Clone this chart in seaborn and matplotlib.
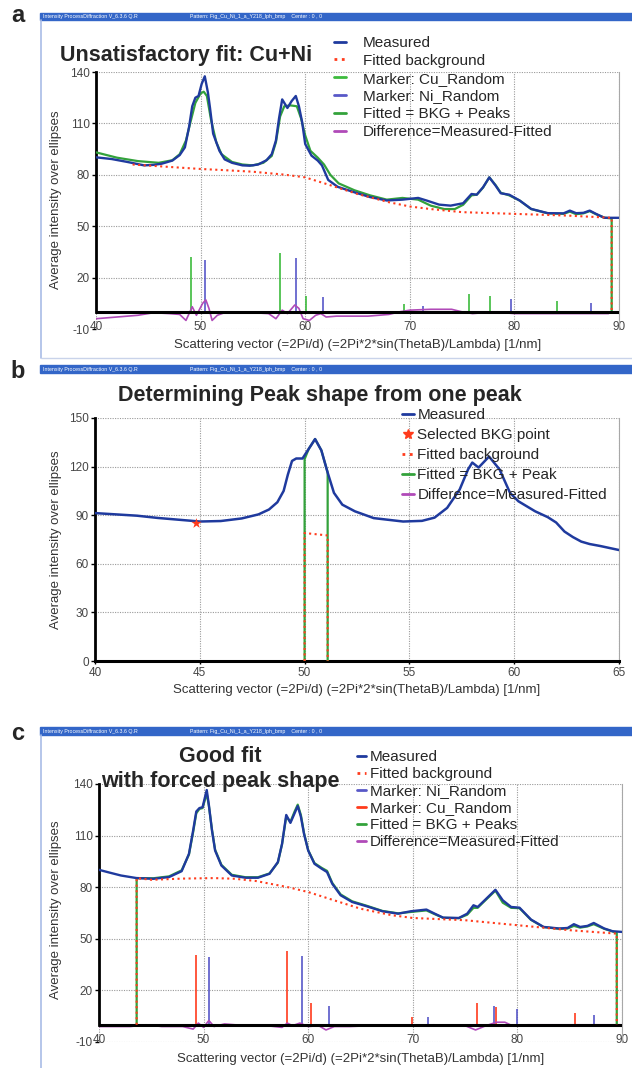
import numpy as np
import pandas as pd
import seaborn as sns
import matplotlib.pyplot as plt
from matplotlib.lines import Line2D
from matplotlib.patches import Rectangle

W, H = 632, 1068

# ---------------- panel a : unsatisfactory fit Cu+Ni ----------------
a_meas_x = [40.0, 41.5, 43.0, 44.6, 45.5, 46.3, 47.3, 48.0, 48.5, 48.9, 49.2, 49.5, 49.8,
            50.1, 50.4, 50.7, 50.9, 51.2, 51.8, 52.3, 53.0, 54.0, 54.7, 55.5, 56.3, 56.8,
            57.2, 57.5, 57.8, 58.3, 58.7, 59.1, 59.4, 59.7, 60.0, 60.6, 61.2, 61.6, 62.2,
            63.1, 64.7, 66.2, 67.8, 69.3, 70.8, 71.6, 72.8, 73.9, 75.1, 75.9, 76.4, 77.0,
            77.6, 78.2, 78.7, 79.5, 80.5, 81.6, 83.2, 84.7, 85.3, 85.9, 86.6, 87.2, 87.8,
            88.6, 90.0]
a_meas_y = [90.2, 89.2, 87.5, 85.5, 85.8, 86.5, 88.3, 91.5, 96.0, 108.0, 120.0, 125.0, 126.0,
            133.0, 137.5, 128.0, 119.0, 104.0, 94.0, 89.0, 87.0, 85.5, 85.3, 86.0, 88.5, 92.0,
            100.0, 113.0, 124.0, 119.0, 123.0, 126.0, 120.0, 111.0, 98.0, 91.2, 88.3, 85.5, 77.0,
            73.0, 69.8, 67.0, 65.0, 65.5, 66.5, 65.0, 62.6, 62.0, 63.4, 68.8, 68.4, 72.7,
            78.5, 73.7, 69.2, 68.4, 65.0, 60.1, 57.6, 57.5, 59.1, 57.6, 57.8, 59.1, 57.2,
            54.9, 54.9]

a_fit_x = [40.0, 42.0, 44.0, 46.0, 47.3, 48.0, 48.6, 49.0, 49.5, 50.0, 50.3, 50.6, 51.0,
           51.5, 52.0, 53.0, 54.0, 55.0, 56.0, 56.8, 57.2, 57.6, 58.0, 58.6, 59.2, 59.6,
           60.0, 60.5, 61.2, 61.8, 62.4, 63.2, 64.7, 66.2, 67.8, 69.3, 70.8, 72.0, 73.3,
           74.3, 75.1, 75.9, 76.4, 77.0, 77.6, 78.2, 78.7, 79.5, 80.5, 81.6, 83.2, 84.7,
           85.3, 85.9, 86.6, 87.2, 87.8, 88.6, 89.3, 89.3]
a_fit_y = [93.1, 90.0, 88.0, 87.0, 88.5, 92.0, 100.0, 110.0, 122.0, 127.5, 128.5, 126.0, 112.0,
           99.0, 92.0, 87.5, 86.0, 85.5, 87.0, 91.0, 99.0, 114.0, 120.0, 120.5, 120.0, 113.0,
           103.0, 94.0, 90.0, 86.0, 80.0, 75.0, 71.0, 68.0, 65.5, 66.5, 65.5, 62.0, 60.0,
           60.0, 62.5, 68.0, 68.4, 72.5, 78.5, 74.0, 69.5, 68.0, 65.0, 60.0, 57.5, 57.2,
           58.5, 57.0, 57.5, 58.8, 57.0, 55.0, 54.5, 0.0]

a_bkg_x = [43.5, 46.0, 48.0, 50.0, 52.0, 55.0, 58.0, 60.0, 62.0, 65.0, 68.0, 70.0, 72.0,
           75.0, 80.0, 85.0, 89.3, 89.3]
a_bkg_y = [86.0, 85.0, 84.2, 83.4, 82.8, 81.8, 80.1, 78.5, 74.7, 68.8, 64.0, 61.5, 60.0,
           58.2, 57.2, 56.2, 54.9, 0.0]

a_diff_x = [40, 42, 44, 45.5, 47, 48, 48.6, 49.2, 49.6, 50.2, 50.5, 50.8, 51.1, 51.6, 52.5,
            53.5, 55, 56.5, 57.2, 57.8, 58.3, 59.0, 59.4, 59.8, 60.4, 61.0, 61.5, 62, 63, 66,
            68, 69, 70, 72, 74, 75, 76, 78, 80, 82, 85, 89]
a_diff_y = [-4, -3, -2, -0.5, -1, -1.5, -5, 3, -2, 5, 7, 2, -5, -2, 0,
            0, -0.5, -1, -4, 1, -1, 4, 2, -4, -5, -2, -1, -3, -2.5, -2.5,
            -1.5, 0, 1, 1.5, 1.5, 0, -1, 0, -1, -1, -1, -1]

a_cu_pos = [49.1, 57.6, 60.1, 69.4, 75.7, 77.7, 84.1]
a_cu_h = [32.3, 34.3, 9.0, 4.4, 10.2, 9.0, 6.1]
a_ni_pos = [50.4, 59.1, 61.7, 71.3, 79.7, 87.3]
a_ni_h = [30.4, 31.5, 8.6, 3.4, 7.7, 5.1]

# ---------------- panel b : peak shape from one peak ----------------
b_meas_x = [40.0, 41.0, 42.0, 43.0, 44.0, 45.0, 46.0, 47.0, 47.8, 48.3, 48.7, 49.0, 49.2,
            49.4, 49.6, 49.9, 50.2, 50.5, 50.8, 51.1, 51.4, 51.8, 52.4, 53.3, 54.7, 55.6,
            56.2, 56.8, 57.4, 57.8, 58.0, 58.3, 58.8, 59.3, 59.8, 60.2, 61.0, 61.6, 62.0,
            62.4, 62.8, 63.2, 63.6, 64.1, 65.0]
b_meas_y = [91.3, 90.5, 89.7, 88.3, 87.2, 86.1, 86.4, 88.0, 90.5, 93.5, 98.0, 105.0, 115.0,
            123.5, 125.0, 125.0, 131.0, 137.0, 130.0, 116.3, 103.8, 96.5, 92.4, 88.2, 86.1, 86.5,
            88.5, 94.5, 105.9, 118.3, 122.5, 119.4, 126.2, 118.3, 103.8, 98.6, 92.4, 88.8, 85.5,
            79.9, 76.5, 73.7, 72.2, 71.0, 68.5]
b_sel_x = [44.8]
b_sel_y = [85.1]
b_fit_x = [50.0, 50.0, 50.2, 50.5, 50.8, 51.1, 51.1]
b_fit_y = [0.0, 124.6, 131.0, 137.0, 130.0, 116.3, 0.0]
b_bkg_x = [50.0, 50.0, 51.1, 51.1]
b_bkg_y = [0.0, 79.0, 77.5, 0.0]

# ---------------- panel c : good fit, forced peak shape ----------------
c_meas_x = [40.0, 41.0, 42.1, 43.6, 45.2, 46.7, 47.9, 48.6, 49.0, 49.3, 49.6, 49.9, 50.3,
            50.5, 50.8, 51.1, 51.7, 52.7, 54.0, 55.2, 56.3, 57.1, 57.5, 57.9, 58.3, 58.7,
            59.0, 59.3, 59.6, 60.0, 60.6, 61.3, 61.8, 62.3, 63.1, 64.2, 65.6, 67.1, 68.6,
            69.8, 71.3, 72.1, 72.9, 74.4, 75.2, 75.8, 76.2, 76.7, 77.9, 78.6, 79.4, 80.2,
            81.3, 82.5, 84.0, 84.8, 85.4, 86.0, 86.7, 87.3, 88.3, 89.1, 90.0]
c_meas_y = [90.1, 88.5, 86.8, 85.3, 84.9, 85.9, 89.3, 99.4, 113.0, 124.0, 126.0, 126.5, 136.5,
            128.0, 113.0, 101.3, 92.6, 86.8, 85.5, 85.5, 87.8, 94.6, 105.2, 122.0, 117.4, 123.0,
            127.2, 121.0, 111.0, 101.3, 93.6, 90.7, 88.8, 82.0, 75.3, 71.4, 68.9, 66.0, 64.6,
            66.0, 67.0, 64.6, 62.3, 62.1, 64.6, 69.5, 68.5, 71.4, 78.5, 72.4, 68.5, 68.1,
            61.2, 56.9, 56.0, 56.3, 58.5, 56.9, 57.5, 59.2, 56.0, 54.4, 54.0]

c_fit_x = [43.6, 43.6, 45.2, 46.7, 47.9, 48.6, 49.0, 49.3, 49.6, 49.9, 50.3, 50.5, 50.8,
           51.1, 51.7, 52.7, 54.0, 55.2, 56.3, 57.1, 57.5, 57.9, 58.3, 58.7, 59.0, 59.3,
           59.6, 60.0, 60.6, 61.3, 61.8, 62.3, 63.1, 64.2, 65.6, 67.1, 68.6, 69.8, 71.3,
           72.1, 72.9, 74.4, 75.2, 75.8, 76.2, 76.7, 77.9, 78.6, 79.4, 80.2, 81.3, 82.5,
           84.0, 84.8, 85.4, 86.0, 86.7, 87.3, 88.3, 89.5, 89.5]
c_fit_y = [0.0, 85.3, 85.2, 86.3, 89.8, 99.0, 112.0, 123.0, 125.5, 126.0, 134.5, 127.5, 113.5,
           101.8, 93.0, 87.2, 85.8, 85.8, 88.0, 94.3, 105.0, 121.0, 118.0, 124.0, 128.0, 122.0,
           111.5, 101.5, 94.0, 91.2, 89.5, 82.5, 75.8, 71.8, 69.2, 66.2, 64.8, 65.6, 66.5,
           64.3, 62.2, 62.0, 64.0, 68.0, 68.0, 71.0, 78.0, 71.0, 68.0, 67.8, 61.0, 56.8,
           55.8, 56.0, 57.5, 56.5, 57.2, 58.5, 55.8, 53.5, 0.0]

c_bkg_x = [43.6, 43.6, 45.0, 48.0, 51.0, 53.0, 55.0, 58.0, 60.0, 62.0, 65.0, 68.0, 70.0,
           75.0, 80.0, 85.0, 89.5, 89.5]
c_bkg_y = [0.0, 85.3, 84.3, 85.0, 85.3, 84.9, 83.6, 80.1, 77.2, 73.3, 67.5, 63.7, 62.1,
           60.8, 57.9, 55.0, 53.0, 0.0]

c_diff_x = [40, 43, 44.5, 46, 48, 49, 49.5, 50, 50.5, 51, 52, 53, 56, 57.5, 58, 58.5, 59.2,
            60, 61, 61.7, 62.5, 64, 66, 70, 72, 75, 76, 77, 78, 78.8, 79.5, 81, 85, 90]
c_diff_y = [-1, -1, 0, -1, -1, -2.5, 1, -1.5, 2.5, -1, 0.5, 0, -0.5, -1.5, 1, -0.5, 1,
            -1, -0.5, -3, -1, -1, -0.5, -0.5, 0, -0.5, -3, -0.5, 1.5, 1.5, -0.5, 0, 0, 0]

c_cu_pos = [49.3, 58.0, 60.3, 69.9, 76.1, 78.0, 85.5]
c_cu_h = [40.5, 43.0, 12.5, 4.8, 12.5, 10.6, 6.7]
c_ni_pos = [50.5, 59.4, 62.0, 71.5, 77.8, 80.0, 87.3]
c_ni_h = [39.2, 39.9, 11.0, 4.4, 11.0, 9.0, 5.8]

# colours
C_MEAS = "#1f3a9e"
C_FIT = "#33a23b"
C_BKG = "#ff3b1c"
C_CU = "#3dbb3d"
C_NI = "#5858c8"
C_DIFF = "#b04ab8"
C_BAR = "#3366c8"
C_GRID = "#9a9a9a"

XLABEL = "Scattering vector (=2Pi/d) (=2Pi*2*sin(ThetaB)/Lambda) [1/nm]"
YLABEL = "Average intensity over ellipses"

sns.set_style("white")
plt.rcParams["font.family"] = ["Liberation Sans", "DejaVu Sans"]
plt.rcParams["axes.unicode_minus"] = False


def fx(px):
    return px / W


def fy(py):
    return 1 - py / H


def box(left, top, right, bottom):
    return [fx(left), fy(bottom), (right - left) / W, (bottom - top) / H]


def curve(ax, x, y, **kw):
    df = pd.DataFrame({"x": x, "y": y})
    sns.lineplot(data=df, x="x", y="y", ax=ax, estimator=None, sort=False, **kw)


def style_axes(ax, xlim, ylim, xticks, yticks, zero_line):
    ax.set_xlim(xlim)
    ax.set_ylim(ylim)
    ax.set_xticks(xticks)
    ax.set_yticks(yticks)
    ax.set_xlabel("")
    ax.set_ylabel("")
    ax.grid(True, color=C_GRID, linestyle=(0, (1, 1.2)), linewidth=0.8)
    ax.set_axisbelow(True)
    ax.spines["top"].set_visible(False)
    ax.spines["right"].set_color("#a8a8a8")
    ax.spines["right"].set_linewidth(0.8)
    ax.spines["left"].set_color("black")
    ax.spines["left"].set_linewidth(2.0)
    ax.tick_params(axis="y", direction="out", length=3, width=1, color="black",
                   labelsize=8.5, labelcolor="#454545", pad=1.5, left=True)
    if zero_line:
        ax.spines["bottom"].set_visible(False)
        ax.spines["left"].set_bounds(0, ylim[1])
        ax.axhline(0, color="black", linewidth=2.2, zorder=5)
        ax.tick_params(axis="x", length=0, labelsize=8.5, labelcolor="#454545", pad=-5.5)
    else:
        ax.spines["bottom"].set_color("black")
        ax.spines["bottom"].set_linewidth(2.2)
        ax.tick_params(axis="x", direction="out", length=2, width=1, color="black",
                       labelsize=8.5, labelcolor="#454545", pad=2, bottom=True)


def window(bar_top, bar_bot, border_bottom, with_border=True):
    fig.add_artist(Rectangle((fx(40), fy(bar_bot)), 1 - fx(40), (bar_bot - bar_top) / H,
                             transform=fig.transFigure, color=C_BAR, zorder=0))
    mid = fy((bar_top + bar_bot) / 2)
    fig.text(fx(43), mid, "Intensity ProcessDiffraction V_6.3.6 Q.R", fontsize=3.8,
             color="white", va="center")
    fig.text(fx(190), mid, "Pattern: Fig_Cu_Ni_1_a_Y218_lph_bmp    Center : 0 , 0",
             fontsize=3.8, color="white", va="center")
    if with_border:
        fig.add_artist(Line2D([fx(41), fx(41)], [fy(bar_bot), fy(border_bottom)],
                              transform=fig.transFigure, color="#a9bce6", linewidth=1.2))


def legend(items, left, top, handlelength, textpad, spacing):
    handles = []
    for label, color, ls, marker in items:
        if marker:
            handles.append(Line2D([], [], color=color, marker=marker, markersize=7,
                                  linestyle="none", label=label))
        else:
            handles.append(Line2D([], [], color=color, linestyle=ls, linewidth=2,
                                  label=label))
    fig.legend(handles=handles, loc="upper left", bbox_to_anchor=(fx(left), fy(top)),
               frameon=False, fontsize=11, handlelength=handlelength,
               handletextpad=textpad, labelspacing=spacing, borderpad=0,
               borderaxespad=0)


fig = plt.figure(figsize=(W / 100, H / 100), dpi=100)

# ---------- a ----------
window(13, 20, 358)
fig.add_artist(Line2D([fx(41), 1], [fy(358), fy(358)], transform=fig.transFigure,
                      color="#c9d3ea", linewidth=1))
ax_a = fig.add_axes(box(96, 72, 619, 329))
ax_a.vlines(a_cu_pos, 0, a_cu_h, color=C_CU, linewidth=1.2, zorder=3)
ax_a.vlines(a_ni_pos, 0, a_ni_h, color=C_NI, linewidth=1.2, zorder=3)
curve(ax_a, a_diff_x, a_diff_y, color=C_DIFF, linewidth=1.2, zorder=4)
curve(ax_a, a_fit_x, a_fit_y, color=C_FIT, linewidth=1.6, zorder=4)
curve(ax_a, a_bkg_x, a_bkg_y, color=C_BKG, linewidth=1.5, linestyle=":", zorder=6)
curve(ax_a, a_meas_x, a_meas_y, color=C_MEAS, linewidth=1.7, zorder=5)
style_axes(ax_a, (40, 90), (-10, 140), range(40, 91, 10), range(-10, 141, 30), True)
fig.text(fx(18), fy(15), "a", fontsize=17, fontweight="bold", ha="center", va="center")
fig.text(fx(60), fy(55), "Unsatisfactory fit: Cu+Ni", fontsize=15.5, fontweight="bold",
         ha="left", va="center")
legend([("Measured", C_MEAS, "-", None),
        ("Fitted background", C_BKG, ":", None),
        ("Marker: Cu_Random", C_CU, "-", None),
        ("Marker: Ni_Random", C_NI, "-", None),
        ("Fitted = BKG + Peaks", C_FIT, "-", None),
        ("Difference=Measured-Fitted", C_DIFF, "-", None)],
       334, 36, 0.8, 1.1, 0.25)
fig.text((fx(96) + fx(619)) / 2, fy(345), XLABEL, fontsize=9.5, color="#333333",
         ha="center", va="center")
fig.text(fx(56), fy(200), YLABEL, fontsize=9.5, color="#333333", rotation=90,
         ha="center", va="center")

# ---------- b ----------
window(365, 373, 700, with_border=False)
ax_b = fig.add_axes(box(95, 418, 619, 661))
curve(ax_b, b_fit_x, b_fit_y, color=C_FIT, linewidth=1.6, zorder=4)
curve(ax_b, b_bkg_x, b_bkg_y, color=C_BKG, linewidth=1.5, linestyle=":", zorder=6)
curve(ax_b, b_meas_x, b_meas_y, color=C_MEAS, linewidth=1.8, zorder=5)
sns.scatterplot(x=b_sel_x, y=b_sel_y, ax=ax_b, color=C_BKG, marker="*", s=60,
                linewidth=0, zorder=7)
style_axes(ax_b, (40, 65), (0, 150), range(40, 66, 5), range(0, 151, 30), False)
fig.text(fx(18), fy(371), "b", fontsize=17, fontweight="bold", ha="center", va="center")
fig.text(fx(320), fy(396), "Determining Peak shape from one peak", fontsize=15.5,
         fontweight="bold", ha="center", va="center")
legend([("Measured", C_MEAS, "-", None),
        ("Selected BKG point", C_BKG, "-", "*"),
        ("Fitted background", C_BKG, ":", None),
        ("Fitted = BKG + Peak", C_FIT, "-", None),
        ("Difference=Measured-Fitted", C_DIFF, "-", None)],
       402, 408, 0.8, 0.2, 0.4)
fig.text((fx(95) + fx(619)) / 2, fy(690), XLABEL, fontsize=9.5, color="#333333",
         ha="center", va="center")
fig.text(fx(56), fy(540), YLABEL, fontsize=9.5, color="#333333", rotation=90,
         ha="center", va="center")

# ---------- c ----------
window(727, 735, 1068)
ax_c = fig.add_axes(box(99, 784, 622, 1042))
ax_c.vlines(c_cu_pos, 0, c_cu_h, color=C_BKG, linewidth=1.2, zorder=3)
ax_c.vlines(c_ni_pos, 0, c_ni_h, color=C_NI, linewidth=1.2, zorder=3)
curve(ax_c, c_diff_x, c_diff_y, color=C_DIFF, linewidth=1.2, zorder=4)
curve(ax_c, c_fit_x, c_fit_y, color=C_FIT, linewidth=1.6, zorder=4)
curve(ax_c, c_bkg_x, c_bkg_y, color=C_BKG, linewidth=1.5, linestyle=":", zorder=6)
curve(ax_c, c_meas_x, c_meas_y, color=C_MEAS, linewidth=1.7, zorder=5)
style_axes(ax_c, (40, 90), (-10, 140), range(40, 91, 10), range(-10, 141, 30), True)
fig.text(fx(18), fy(733), "c", fontsize=17, fontweight="bold", ha="center", va="center")
fig.text(fx(220), fy(757), "Good fit", fontsize=15.5, fontweight="bold",
         ha="center", va="center")
fig.text(fx(220), fy(782), "with forced peak shape", fontsize=15.5, fontweight="bold",
         ha="center", va="center")
legend([("Measured", C_MEAS, "-", None),
        ("Fitted background", C_BKG, ":", None),
        ("Marker: Ni_Random", C_NI, "-", None),
        ("Marker: Cu_Random", C_BKG, "-", None),
        ("Fitted = BKG + Peaks", C_FIT, "-", None),
        ("Difference=Measured-Fitted", C_DIFF, "-", None)],
       357, 750, 0.6, 0.25, 0.2)
fig.text((fx(99) + fx(622)) / 2, fy(1059), XLABEL, fontsize=9.5, color="#333333",
         ha="center", va="center")
fig.text(fx(56), fy(910), YLABEL, fontsize=9.5, color="#333333", rotation=90,
         ha="center", va="center")

fig.savefig("out.png", dpi=100)
